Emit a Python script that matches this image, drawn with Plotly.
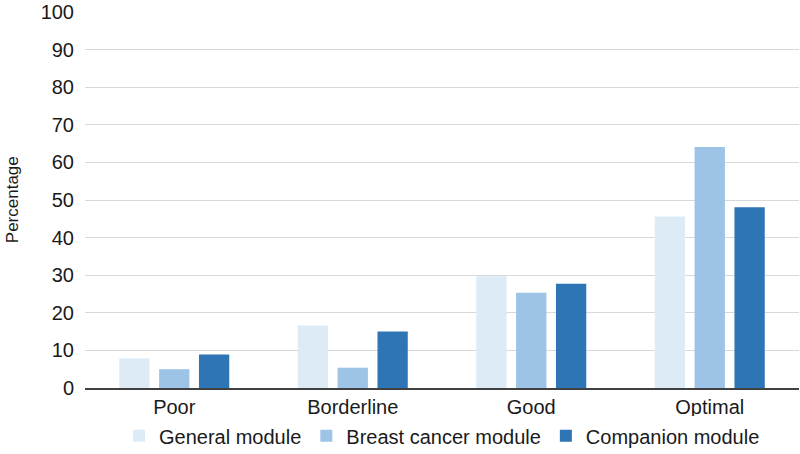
"""Grouped bar chart: percentage per category for three modules."""

import plotly.graph_objects as go

# Data
categories = ["Poor", "Borderline", "Good", "Optimal"]
general_module = [7.9, 16.6, 29.7, 45.6]
breast_cancer_module = [5.0, 5.4, 25.3, 64.1]
companion_module = [8.9, 15.0, 27.7, 48.1]

series = [
    ("General module", general_module, "#DDEBF7"),
    ("Breast cancer module", breast_cancer_module, "#9DC3E6"),
    ("Companion module", companion_module, "#2E75B6"),
]

FONT = "Liberation Sans, Arial, Helvetica, sans-serif"

fig = go.Figure()
for name, values, color in series:
    fig.add_trace(
        go.Bar(
            x=categories,
            y=values,
            name=name,
            marker=dict(color=color, line=dict(width=0)),
        )
    )

fig.update_layout(
    width=800,
    height=454,
    barmode="group",
    bargap=0.33,
    bargroupgap=0.24,
    plot_bgcolor="white",
    paper_bgcolor="white",
    font=dict(family=FONT, size=20, color="#1a1a1a"),
    margin=dict(l=85, r=1, t=12, b=66, autoexpand=False),
    legend=dict(
        orientation="h",
        x=0.5,
        xanchor="center",
        y=-0.075,
        yanchor="top",
        font=dict(size=20),
        itemwidth=30,
        traceorder="normal",
    ),
)

fig.update_yaxes(
    range=[0, 100],
    dtick=10,
    showgrid=True,
    gridcolor="#d9d9d9",
    gridwidth=1,
    zeroline=False,
    showline=False,
    ticks="",
    ticklabelstandoff=10,
    tickfont=dict(size=20),
    automargin=False,
)

fig.update_xaxes(
    showline=True,
    linecolor="#404040",
    linewidth=1.5,
    ticks="",
    automargin=False,
    tickfont=dict(size=20),
)

# y-axis title sits close to the left edge, so place it as an annotation
fig.add_annotation(
    text="Percentage",
    textangle=-90,
    xref="paper",
    yref="paper",
    x=-0.102,
    y=0.5,
    xanchor="center",
    yanchor="middle",
    showarrow=False,
    font=dict(size=17),
)

# drop the browser's default body margin so the figure sits at the page origin
fig.write_html(
    "out.html",
    config={"displayModeBar": False},
    post_script="document.body.style.margin = '0';",
)
